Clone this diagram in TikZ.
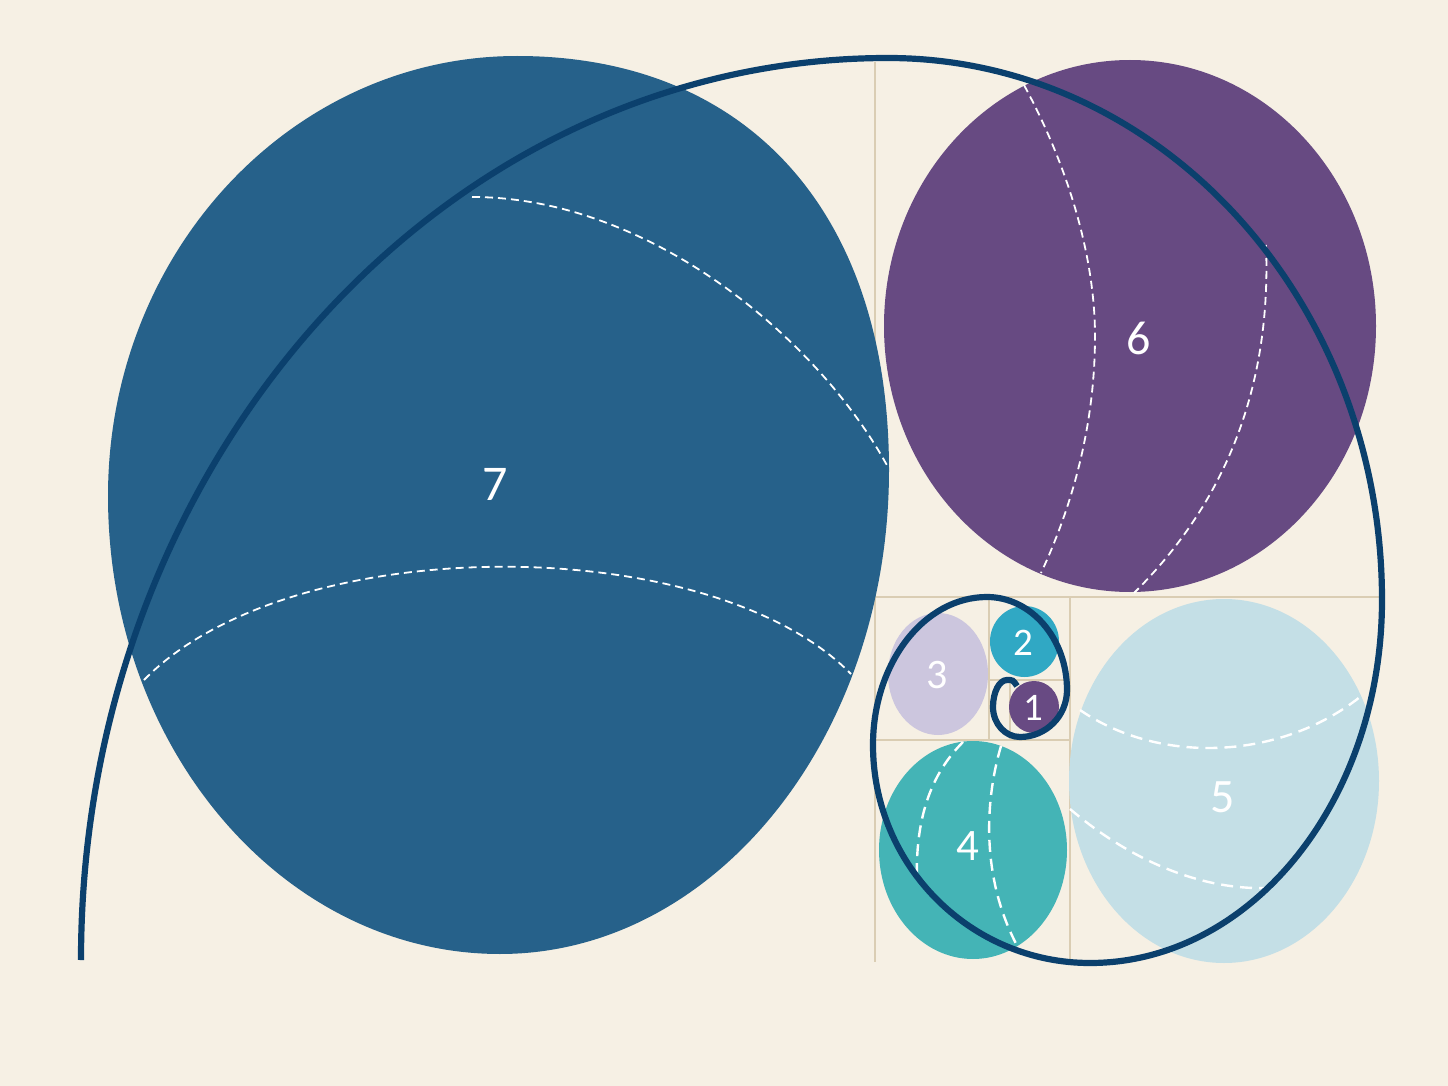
\documentclass[tikz,border=0pt]{standalone}
\usepackage{fontspec}
\setmainfont{Carlito}
\definecolor{bgc}{HTML}{F6F0E4}
\definecolor{gridc}{HTML}{DACDB3}
\definecolor{c7}{HTML}{26618A}
\definecolor{c6}{HTML}{674A82}
\definecolor{c5}{HTML}{C4DFE6}
\definecolor{c4}{HTML}{44B4B6}
\definecolor{c3}{HTML}{CCC6DE}
\definecolor{c2}{HTML}{30A8C4}
\definecolor{c1}{HTML}{684A83}
\definecolor{spiralc}{HTML}{0B406D}
\begin{document}
\begin{tikzpicture}[x=0.5pt,y=-0.5pt,
  gridline/.style={draw=gridc, line width=1pt},
  dashA/.style={draw=white, line width=0.9pt, dash pattern=on 4pt off 2.5pt},
  dashB/.style={draw=white, line width=1.2pt, dash pattern=on 6pt off 3.5pt},
  spiral/.style={draw=spiralc, line width=3.1pt},
  lbl/.style={text=white, inner sep=0pt}]
\useasboundingbox (0,0) rectangle (1448,1086);
\fill[bgc] (0,0) rectangle (1448,1086);
% grid
\draw[gridline] (875,62) -- (875,962);
\draw[gridline] (875,597) -- (1380,597);
\draw[gridline] (1070,597) -- (1070,960);
\draw[gridline] (875,740) -- (1070,740);
\draw[gridline] (989,597) -- (989,740);
\draw[gridline] (989,680) -- (1070,680);
\draw[gridline] (1010,680) -- (1010,740);
% ellipses
\fill[c7] (517,56) .. controls (748,56) and (889,213) .. (889,470)
  .. controls (889,737) and (715,954) .. (500,954)
  .. controls (284,954) and (108,749) .. (108,496)
  .. controls (108,253) and (291,56) .. (517,56) -- cycle;
\fill[c6] (1130,326) ellipse [x radius=246, y radius=266];
\fill[c5] (1224,781) ellipse [x radius=155, y radius=182];
\fill[c4] (973,850) ellipse [x radius=94, y radius=109];
\fill[c3] (938,674) ellipse [x radius=50, y radius=61];
\fill[c2] (1024.5,641.5) ellipse [x radius=34.5, y radius=35.5];
\fill[c1] (1034,707) ellipse [x radius=25, y radius=26];
% dashed arcs
\draw[dashA] (472,197) .. controls (650,197) and (820,340) .. (889,469);
\draw[dashA] (144,680) .. controls (290,530) and (710,530) .. (851,674);
\draw[dashA] (1024,85) .. controls (1070,170) and (1095,260) .. (1095,336)
  .. controls (1095,420) and (1075,500) .. (1041,573);
\draw[dashA] (1266,245) .. controls (1270,350) and (1248,480) .. (1134,593);
\draw[dashB] (1080,710) .. controls (1160,765) and (1280,760) .. (1360,697);
\draw[dashB] (1070,809) .. controls (1130,860) and (1200,890) .. (1267,888);
\draw[dashB] (963,742) .. controls (930,775) and (915,820) .. (917,882);
\draw[dashB] (1001,746) .. controls (985,800) and (980,880) .. (1020,951);
% labels
\node[lbl, font=\fontsize{25}{30}\selectfont] (l7) at (495,484) {7};
\node[lbl, font=\fontsize{24}{29}\selectfont] (l6) at (1139,338) {6};
\node[lbl, font=\fontsize{24}{29}\selectfont] (l5) at (1223,797) {5};
\node[lbl, font=\fontsize{22.5}{27}\selectfont] (l4) at (968,846) {4};
\node[lbl, font=\fontsize{21}{25}\selectfont] (l3) at (937,675) {3};
\node[lbl, font=\fontsize{19.5}{23}\selectfont] (l2) at (1023,643) {2};
\node[lbl, font=\fontsize{19.5}{23}\selectfont] (l1) at (1033,708) {1};
% spiral
\draw[spiral] (81,960)
  arc[start angle=180, end angle=270, x radius=807, y radius=902]
  arc[start angle=270, end angle=360, x radius=494, y radius=542]
  arc[start angle=0, end angle=90, x radius=292, y radius=363]
  arc[start angle=90, end angle=180, x radius=217, y radius=218]
  arc[start angle=180, end angle=270, x radius=114, y radius=148]
  arc[start angle=270, end angle=360, x radius=80, y radius=93]
  arc[start angle=0, end angle=90, x radius=47, y radius=47]
  arc[start angle=90, end angle=180, x radius=27, y radius=30]
  arc[start angle=180, end angle=270, x radius=14, y radius=27]
  .. controls (1013,680) .. (1017,686);
\end{tikzpicture}
\end{document}
